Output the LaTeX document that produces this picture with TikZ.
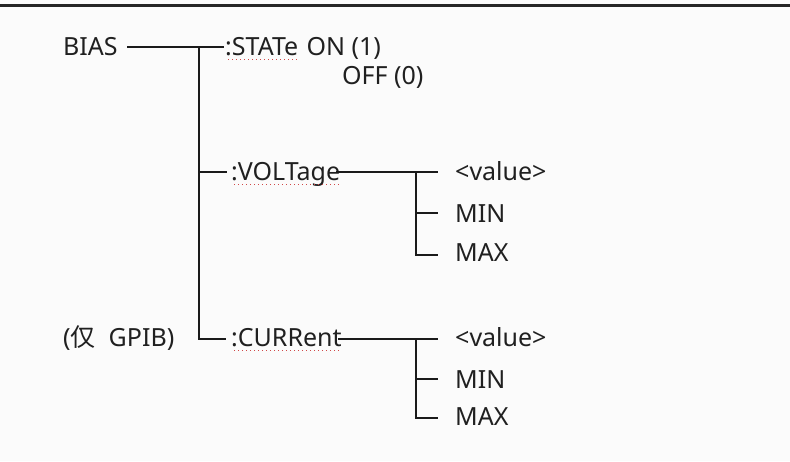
\documentclass[tikz,border=0pt]{standalone}
\usepackage{fontspec}
\setmainfont{Noto Sans}
\newfontfamily\cjk{Noto Sans CJK SC}
\usetikzlibrary{calc}
\definecolor{bg}{HTML}{FBFBFB}
\definecolor{ink}{HTML}{1A1A1A}
\definecolor{txt}{HTML}{202020}
\definecolor{spell}{HTML}{D04848}
\tikzset{
  lbl/.style={inner sep=0pt, anchor=base west, text=txt, font=\fontsize{25}{30}\selectfont},
  wire/.style={draw=ink, line width=1.5pt},
  squig/.style={draw=spell, line width=1.3pt, dash pattern=on 1.3pt off 2.7pt},
}
\begin{document}
\begin{tikzpicture}[x=1pt,y=-1pt]
\fill[bg] (0,0) rectangle (790,461);
\useasboundingbox (0,0) rectangle (790,461);
\coordinate (tl) at (0,5.5); \coordinate (tr) at (790,5.5);
\draw[draw=black!85, line width=2.4pt] (tl) -- (tr);

% labels
\node[lbl] (bias) at (63,55) {BIAS};
\node[lbl] (stat) at (225,55) {:STATe};
\node[lbl] (on) at ($(stat.base east)+(8,0)$) {ON (1)};
\node[lbl] (off) at (342,84) {OFF (0)};
\node[lbl] (volt) at (231,180) {:VOLTage};
\node[lbl] (vval) at (455,180) {<value>};
\node[lbl] (vmin) at (455,222) {MIN};
\node[lbl] (vmax) at (455,261) {MAX};
\node[lbl] (gpib) at (63,346) {({\cjk 仅}\ \ GPIB)};
\node[lbl] (curr) at (231,346) {:CURRent};
\node[lbl] (cval) at (455,346) {<value>};
\node[lbl] (cmin) at (455,388) {MIN};
\node[lbl] (cmax) at (455,425) {MAX};

% spell-check underlines
\draw[squig] ($(stat.base west)+(3,4.5)$) -- ($(stat.base east)+(0,4.5)$);
\draw[squig] ($(volt.base west)+(3,4.5)$) -- ($(volt.base east)+(0,4.5)$);
\draw[squig] ($(curr.base west)+(3,4.5)$) -- ($(curr.base east)+(0,4.5)$);

% main tree
\coordinate (b0) at (127,47);
\coordinate (j1) at (199,47);
\coordinate (s0) at (224,47);
\coordinate (jv) at (199,172);
\coordinate (v0) at (227,172);
\coordinate (jc) at (199,339);
\coordinate (c0) at (226,339);
\draw[wire] (b0) -- (s0);
\draw[wire] (j1) -- (jc) -- (c0);
\draw[wire] (jv) -- (v0);

% VOLTage subtree
\coordinate (v1) at ($(volt.base east)+(-4,-8)$);
\coordinate (vj) at (416,172);
\coordinate (ve) at (438,172);
\coordinate (vm) at (416,213);
\coordinate (vme) at (438,213);
\coordinate (vx) at (416,255);
\coordinate (vxe) at (438,255);
\draw[wire] (v1) -- (ve);
\draw[wire] (vj) -- (vx) -- (vxe);
\draw[wire] (vm) -- (vme);

% CURRent subtree
\coordinate (c1) at ($(curr.base east)+(-4,-7)$);
\coordinate (cj) at (416,339);
\coordinate (ce) at (438,339);
\coordinate (cm) at (416,379);
\coordinate (cme) at (438,379);
\coordinate (cx) at (416,418);
\coordinate (cxe) at (438,418);
\draw[wire] (c1) -- (ce);
\draw[wire] (cj) -- (cx) -- (cxe);
\draw[wire] (cm) -- (cme);
\end{tikzpicture}
\end{document}
